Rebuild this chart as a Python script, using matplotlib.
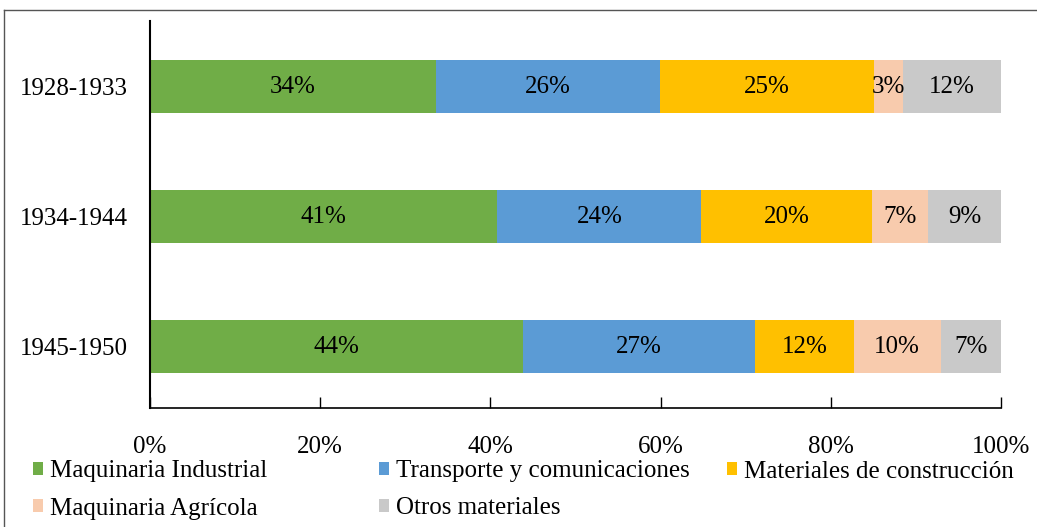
import numpy as np
import matplotlib.pyplot as plt
from matplotlib.lines import Line2D

plt.rcParams['font.family'] = ['Liberation Serif', 'DejaVu Serif']

periodos = ["1928-1933", "1934-1944", "1945-1950"]
categorias = ["Maquinaria Industrial", "Transporte y comunicaciones",
              "Materiales de construcción", "Maquinaria Agrícola", "Otros materiales"]
colores = ["#70AD47", "#5B9BD5", "#FFC000", "#F8CBAD", "#C9C9C9"]

# porcentajes por categoria (filas = periodos)
maq_industrial = [33.6, 40.8, 43.8]
transporte = [26.3, 24.0, 27.3]
construccion = [25.2, 20.0, 11.6]
maq_agricola = [3.4, 6.6, 10.2]
otros = [11.5, 8.6, 7.1]

series = [maq_industrial, transporte, construccion, maq_agricola, otros]

FS = 18

fig = plt.figure(figsize=(10.37, 5.27), dpi=100)
ax = fig.add_axes([150 / 1037, 119 / 527, 851 / 1037, 386.5 / 527])

y = np.arange(len(periodos))
izq = np.zeros(len(periodos))
barras = []
for nombre, vals, col in zip(categorias, series, colores):
    vals = np.array(vals)
    b = ax.barh(y, vals, left=izq, height=0.41, color=col, label=nombre)
    barras.append(b)
    for yi, l, v in zip(y, izq, vals):
        ax.text(l + v / 2, yi, f"{v:.0f}%", ha="center", va="center", fontsize=FS)
    izq += vals

ax.set_xlim(0, 100)
ax.set_ylim(2.473, -0.5)
ax.set_yticks(y)
ax.set_yticklabels(periodos, fontsize=FS)
ax.set_xticks(np.arange(0, 101, 20))
ax.set_xticklabels([f"{t}%" for t in range(0, 101, 20)], fontsize=FS)
ax.tick_params(axis="x", direction="in", length=8, width=1, pad=20)
ax.tick_params(axis="y", length=0, pad=16)
for s in ["top", "right"]:
    ax.spines[s].set_visible(False)
ax.spines["left"].set_linewidth(1.5)
ax.spines["bottom"].set_linewidth(1.2)

# leyenda en tres columnas
cols = [(0, 3), (1, 4), (2,)]
xs = [20 / 1037, 366 / 1037, 714 / 1037]
for idx, x0 in zip(cols, xs):
    leg = fig.legend([barras[i] for i in idx], [categorias[i] for i in idx],
                     loc="upper left", bbox_to_anchor=(x0, 79 / 527), frameon=False,
                     fontsize=FS, handlelength=0.42, handleheight=0.42,
                     handletextpad=0.3, labelspacing=0.6, borderpad=0)

# marco de la figura
fig.add_artist(Line2D([4 / 1037, 1], [1 - 10 / 527, 1 - 10 / 527], color="#555555", lw=1))
fig.add_artist(Line2D([4 / 1037, 4 / 1037], [0, 1 - 10 / 527], color="#555555", lw=1))

fig.savefig("out.png", dpi=100)
